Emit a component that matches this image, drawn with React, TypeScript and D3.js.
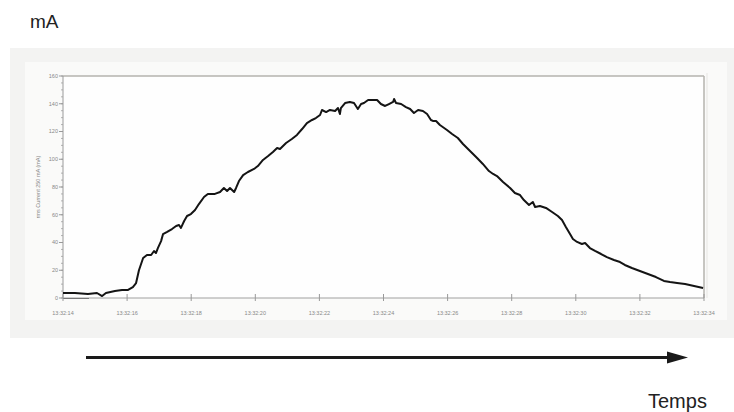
import React from 'react'
import * as d3 from 'd3'

// seconds after 13:32:14
const tSec = [
  0, 0.37, 0.78, 1.06, 1.22, 1.34, 1.62, 1.84, 2.03, 2.18, 2.28, 2.37, 2.5, 2.62, 2.75, 2.84, 2.9,
  2.96, 3.06, 3.12, 3.25, 3.4, 3.53, 3.62, 3.68, 3.78, 3.87, 3.99, 4.12, 4.24, 4.4, 4.52, 4.74,
  4.9, 5.02, 5.12, 5.21, 5.34, 5.4, 5.49, 5.62, 5.77, 5.96, 6.08, 6.24, 6.4, 6.55, 6.68, 6.77,
  6.96, 7.14, 7.3, 7.46, 7.61, 7.77, 7.89, 8.02, 8.08, 8.21, 8.33, 8.49, 8.58, 8.64, 8.67, 8.8,
  8.95, 9.08, 9.2, 9.3, 9.39, 9.52, 9.67, 9.8, 9.92, 10.05, 10.17, 10.3, 10.33, 10.39, 10.55,
  10.7, 10.83, 10.95, 11.08, 11.23, 11.36, 11.48, 11.54, 11.64, 11.76, 11.98, 12.14, 12.32,
  12.48, 12.7, 12.92, 13.1, 13.29, 13.42, 13.54, 13.73, 13.95, 14.1, 14.26, 14.38, 14.54, 14.66,
  14.73, 14.88, 15.07, 15.26, 15.44, 15.57, 15.69, 15.82, 15.91, 16.04, 16.19, 16.29, 16.35,
  16.44, 16.6, 16.79, 16.97, 17.19, 17.38, 17.53, 17.75, 18.0, 18.25, 18.5, 18.75, 18.94, 19.16,
  19.41, 19.69, 19.97,
]
// rms current (mA)
const mA = [
  3.6, 3.6, 2.9, 3.6, 1.4, 3.6, 5.0, 5.8, 5.8, 7.9, 10.8, 20, 28.8, 31, 31, 33.9, 32.4,
  36, 41, 46, 47.6, 49.7, 51.9, 52.6, 50.5, 55.5, 59.1, 60.5, 63.4, 67.7, 72.8, 75, 75,
  76.4, 79.3, 77.1, 79.3, 76.4, 79.3, 84.3, 88.6, 90.8, 93, 95.1, 99.5, 102.3, 105.2, 108.1, 107.4,
  111.7, 114.6, 117.5, 121.8, 126.1, 128.3, 129.7, 131.9, 135.5, 134, 135.5, 134.8, 136.9, 132.6, 136.9, 140.5,
  141.3, 140.5, 136.2, 139.8, 140.5, 142.7, 142.7, 142.7, 139.8, 138.4, 139.8, 141.3, 143.4, 140.5, 139.8,
  137.6, 136.2, 133.3, 135.5, 134.8, 132.6, 128.3, 127.6, 127.6, 124.7, 121.1, 118.2, 115.3,
  111, 105.9, 100.9, 96.6, 91.5, 89.4, 87.9, 83.6, 79.3, 75.7, 74.2, 70.6, 67, 69.2,
  65.6, 66.3, 64.9, 62, 59.1, 56.2, 51.2, 46.1, 42.5, 40.4, 38.9, 39.6, 38.2,
  36, 33.9, 31.7, 29.5, 27.4, 25.9, 23.8, 21.6, 19.5, 17.3, 15.1, 12.3, 11.5, 10.8,
  10.1, 8.6, 7.2,
]
const yTicks = [0, 20, 40, 60, 80, 100, 120, 140, 160]
const xTickSec = [0, 2, 4, 6, 8, 10, 12, 14, 16, 18, 20]

const base = new Date(2000, 0, 1, 13, 32, 14).getTime()
const toDate = (s: number) => new Date(base + s * 1000)

const W = 734
const H = 412
const plot = { left: 63, right: 704, top: 76, bottom: 298 }

const App: React.FC = () => {
  const x = d3
    .scaleTime()
    .domain([toDate(0), toDate(20)])
    .range([plot.left, plot.right])
  const y = d3.scaleLinear().domain([0, 160]).range([plot.bottom, plot.top])
  const fmt = d3.timeFormat('%H:%M:%S')

  const points: [Date, number][] = tSec.map((t, i) => [toDate(t), mA[i]])
  const line = d3
    .line<[Date, number]>()
    .x((d) => x(d[0]))
    .y((d) => y(d[1]))
  const minor = d3.range(0, 161, 5)

  return (
    <svg
      width={W}
      height={H}
      style={{ position: 'absolute', left: 0, top: 0 }}
      fontFamily="'Liberation Sans', Arial, sans-serif"
    >
      <rect width={W} height={H} fill="#fff" />
      <text x={30} y={28} fontSize={19} fill="#222">
        mA
      </text>

      {/* grey panels */}
      <rect x={10} y={48} width={724} height={290} fill="#f3f3f2" />
      <rect x={25} y={62} width={702} height={258} fill="#fafaf9" />
      <rect
        x={plot.left}
        y={plot.top}
        width={plot.right - plot.left}
        height={plot.bottom - plot.top}
        fill="#fefefe"
      />
      <line x1={plot.left} x2={plot.right} y1={plot.top} y2={plot.top} stroke="#b5b3ae" strokeWidth={1.5} />
      <line x1={plot.right} x2={plot.right} y1={plot.top} y2={plot.bottom} stroke="#b5b3ae" strokeWidth={1.5} />
      <line x1={plot.right + 3} x2={plot.right + 3} y1={plot.top - 3} y2={plot.bottom} stroke="#e6e5e2" strokeWidth={1} />

      {/* y axis */}
      <line x1={plot.left} x2={plot.left} y1={plot.top} y2={plot.bottom} stroke="#9a9a9a" strokeWidth={1} />
      {minor.map((v) => (
        <line key={'m' + v} x1={plot.left - 2} x2={plot.left} y1={y(v)} y2={y(v)} stroke="#a0a0a0" strokeWidth={0.8} />
      ))}
      {yTicks.map((v) => (
        <g key={'y' + v}>
          <line x1={plot.left - 4} x2={plot.left} y1={y(v)} y2={y(v)} stroke="#999" strokeWidth={1} />
          <text x={plot.left - 5} y={y(v)} dy="0.35em" textAnchor="end" fontSize={5.5} fill="#888">
            {v}
          </text>
        </g>
      ))}
      <text
        transform={`translate(40,${(plot.top + plot.bottom) / 2}) rotate(-90)`}
        textAnchor="middle"
        fontSize={5.5}
        fill="#888"
      >
        rms Current 250 mA (mA)
      </text>

      {/* x axis */}
      <line x1={plot.left} x2={plot.right} y1={plot.bottom} y2={plot.bottom} stroke="#a0a0a0" strokeWidth={1} />
      <line x1={plot.left} x2={plot.left + 26} y1={plot.bottom + 0.5} y2={plot.bottom + 0.5} stroke="#777" strokeWidth={1} />
      {xTickSec.map((s) => (
        <g key={'x' + s}>
          <line x1={x(toDate(s))} x2={x(toDate(s))} y1={plot.bottom - 4} y2={plot.bottom + 3} stroke="#999" strokeWidth={1} />
          <text x={x(toDate(s))} y={plot.bottom + 17} textAnchor="middle" fontSize={5.5} fill="#888">
            {fmt(toDate(s))}
          </text>
        </g>
      ))}

      <path d={line(points) ?? ''} fill="none" stroke="#141414" strokeWidth={2} strokeLinejoin="round" />

      {/* time arrow */}
      <line x1={86} x2={670} y1={357.5} y2={357.5} stroke="#1a1a1a" strokeWidth={3} />
      <path d="M667,351.5 L688,357.5 L667,363.5 Z" fill="#1a1a1a" />
      <text x={648} y={408} fontSize={20} fill="#222">
        Temps
      </text>
    </svg>
  )
}

export default App
